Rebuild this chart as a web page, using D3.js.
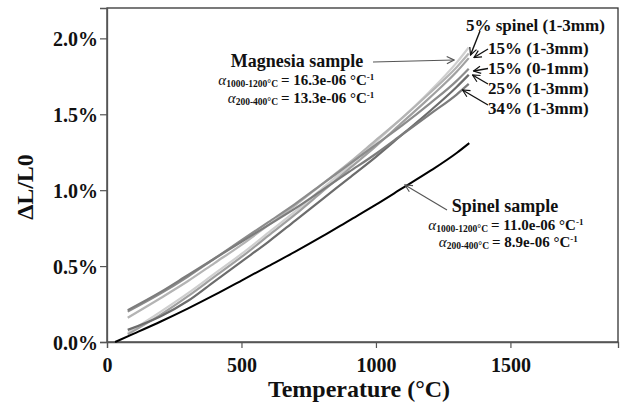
<!DOCTYPE html>
<html><head><meta charset="utf-8">
<script src="https://cdn.jsdelivr.net/npm/d3@7"></script>
<style>
html,body{margin:0;padding:0;background:#fff;}
svg text{font-family:"Liberation Serif","Times New Roman",serif;font-weight:bold;fill:#111;}
</style></head>
<body>
<svg id="chart" width="626" height="405"></svg>
<script>
// ---- data ----
const temps = [77, 200, 300, 400, 500, 600, 700, 800, 900, 1000, 1100, 1200, 1300, 1345];
const magnesia   = [0.06, 0.20, 0.32, 0.45, 0.58, 0.72, 0.86, 1.01, 1.16, 1.32, 1.48, 1.65, 1.84, 1.94];
const sp5_13     = [0.16, 0.29, 0.40, 0.52, 0.64, 0.77, 0.90, 1.04, 1.18, 1.33, 1.48, 1.64, 1.81, 1.90];
const sp15_13    = [0.05, 0.18, 0.30, 0.43, 0.56, 0.70, 0.84, 0.99, 1.14, 1.29, 1.45, 1.61, 1.78, 1.87];
const sp15_01    = [0.20, 0.32, 0.43, 0.55, 0.67, 0.79, 0.91, 1.04, 1.17, 1.30, 1.43, 1.57, 1.72, 1.80];
const sp25_13    = [0.08, 0.17, 0.27, 0.40, 0.53, 0.66, 0.80, 0.94, 1.08, 1.22, 1.37, 1.52, 1.68, 1.76];
const sp34_13    = [0.21, 0.33, 0.44, 0.55, 0.66, 0.77, 0.88, 1.00, 1.12, 1.24, 1.37, 1.50, 1.63, 1.70];
const spinelTemps = [30, 100, 200, 300, 400, 500, 600, 700, 800, 900, 1000, 1100, 1200, 1300, 1347];
const spinel      = [0, 0.055, 0.135, 0.22, 0.31, 0.405, 0.50, 0.595, 0.695, 0.80, 0.905, 1.015, 1.125, 1.245, 1.31];
const seriesNames = ["Magnesia sample", "5% spinel (1-3mm)", "15% (1-3mm)", "15% (0-1mm)", "25% (1-3mm)", "34% (1-3mm)"];
const xTicks = [0, 500, 1000, 1500];
const yTicks = [0, 0.5, 1.0, 1.5, 2.0];

const greySeries = [
  {name: seriesNames[0], v: magnesia, c: "#cfcfcf"},
  {name: seriesNames[1], v: sp5_13,  c: "#b4b4b4"},
  {name: seriesNames[2], v: sp15_13, c: "#a0a0a0"},
  {name: seriesNames[3], v: sp15_01, c: "#8c8c8c"},
  {name: seriesNames[4], v: sp25_13, c: "#6c6c6c"},
  {name: seriesNames[5], v: sp34_13, c: "#7c7c7c"}
];

const svg = d3.select("#chart");
const L = 107, R = 618, T = 8, B = 342;
const x = d3.scaleLinear().domain([0, 1900]).range([L, R]);
const y = d3.scaleLinear().domain([0, 2.2]).range([B, T]);

// markers
const defs = svg.append("defs");
function marker(id, color) {
  defs.append("marker").attr("id", id).attr("viewBox", "0 0 10 10")
    .attr("refX", 9).attr("refY", 5).attr("markerWidth", 9).attr("markerHeight", 9)
    .attr("markerUnits", "userSpaceOnUse").attr("orient", "auto")
    .append("path").attr("d", "M1,1 L9,5 L1,9").attr("fill", "none")
    .attr("stroke", color).attr("stroke-width", 1.3);
}
marker("arrBlack", "#111");
marker("arrGrey", "#555");

// frame
svg.append("rect").attr("x", L).attr("y", T).attr("width", R - L).attr("height", B - T)
  .attr("fill", "none").attr("stroke", "#333").attr("stroke-width", 1.3);

// axes
const xAxis = svg.append("g").attr("transform", `translate(0,${B})`)
  .call(d3.axisBottom(x).tickValues(xTicks).tickSize(6).tickPadding(5).tickFormat(d3.format("d")));
const yAxis = svg.append("g").attr("transform", `translate(${L},0)`)
  .call(d3.axisLeft(y).tickValues(yTicks).tickSize(7).tickPadding(2).tickFormat(d => d.toFixed(1) + "%"));
[xAxis, yAxis].forEach(g => {
  g.select(".domain").attr("stroke", "#555").attr("stroke-width", 1.3);
  g.selectAll(".tick line").attr("stroke", "#555").attr("stroke-width", 1.2);
  g.selectAll(".tick text").style("font-size", "20px").attr("fill", "#111")
    .style("font-family", "'Liberation Serif','Times New Roman',serif").style("font-weight", "bold");
});
xAxis.selectAll(".tick text").attr("dy", "0.95em");
yAxis.selectAll(".tick text").attr("dy", "0.35em");

// curves
const line = d3.line().curve(d3.curveMonotoneX);
greySeries.forEach(s => {
  svg.append("path").datum(temps.map((t, i) => [x(t), y(s.v[i])]))
    .attr("d", line).attr("fill", "none").attr("stroke", s.c).attr("stroke-width", 2.2);
});
svg.append("path").datum(spinelTemps.map((t, i) => [x(t), y(spinel[i])]))
  .attr("d", line).attr("fill", "none").attr("stroke", "#000").attr("stroke-width", 2);

// axis titles
svg.append("text").attr("x", 359).attr("y", 397).attr("text-anchor", "middle")
  .style("font-size", "24px").text("Temperature (°C)");
svg.append("text").attr("transform", "translate(33,187) rotate(-90)").attr("text-anchor", "middle")
  .style("font-size", "24px").text("ΔL/L0");

// coefficient annotations
function alphaLine(xEq, yBase, sub, val) {
  const a = svg.append("text").attr("x", xEq - 3).attr("y", yBase).attr("text-anchor", "end");
  a.append("tspan").style("font-size", "15px").style("font-style", "italic").style("font-weight", "normal").text("α");
  a.append("tspan").style("font-size", "9.5px").attr("dy", 2).text(sub);
  const b = svg.append("text").attr("x", xEq).attr("y", yBase).style("font-size", "15px");
  b.append("tspan").text("= " + val + " °C");
  b.append("tspan").style("font-size", "9px").attr("dy", -5).text("-1");
}
svg.append("text").attr("x", 297).attr("y", 67).attr("text-anchor", "middle")
  .style("font-size", "18px").text("Magnesia sample");
alphaLine(281, 85, "1000-1200°C", "16.3e-06");
alphaLine(281, 102.5, "200-400°C", "13.3e-06");

svg.append("text").attr("x", 505).attr("y", 212).attr("text-anchor", "middle")
  .style("font-size", "18px").text("Spinel sample");
alphaLine(491, 229.5, "1000-1200°C", "11.0e-06");
alphaLine(492, 247, "200-400°C", "8.9e-06");

// annotation arrows
svg.append("line").attr("x1", 373).attr("y1", 62).attr("x2", 454).attr("y2", 60)
  .attr("stroke", "#555").attr("stroke-width", 1.1).attr("marker-end", "url(#arrGrey)");
svg.append("line").attr("x1", 447).attr("y1", 210).attr("x2", 405).attr("y2", 185)
  .attr("stroke", "#555").attr("stroke-width", 1.1).attr("marker-end", "url(#arrGrey)");

// series labels at right
const labels = [
  {t: seriesNames[1], x: 466, y: 31, ax1: [480, 31], ax2: [470.5, 55]},
  {t: seriesNames[2], x: 488, y: 53.5, ax1: [488, 49], ax2: [474, 57.5]},
  {t: seriesNames[3], x: 488, y: 73.5, ax1: [488, 68.5], ax2: [473.5, 71]},
  {t: seriesNames[4], x: 488, y: 94, ax1: [488, 84], ax2: [472.5, 75]},
  {t: seriesNames[5], x: 488, y: 113.5, ax1: [488, 105], ax2: [462.5, 90]}
];
labels.forEach(d => {
  svg.append("text").attr("x", d.x).attr("y", d.y).style("font-size", "17px").text(d.t);
  svg.append("line").attr("x1", d.ax1[0]).attr("y1", d.ax1[1]).attr("x2", d.ax2[0]).attr("y2", d.ax2[1])
    .attr("stroke", "#111").attr("stroke-width", 1.4).attr("marker-end", "url(#arrBlack)");
});
</script>
</body></html>
